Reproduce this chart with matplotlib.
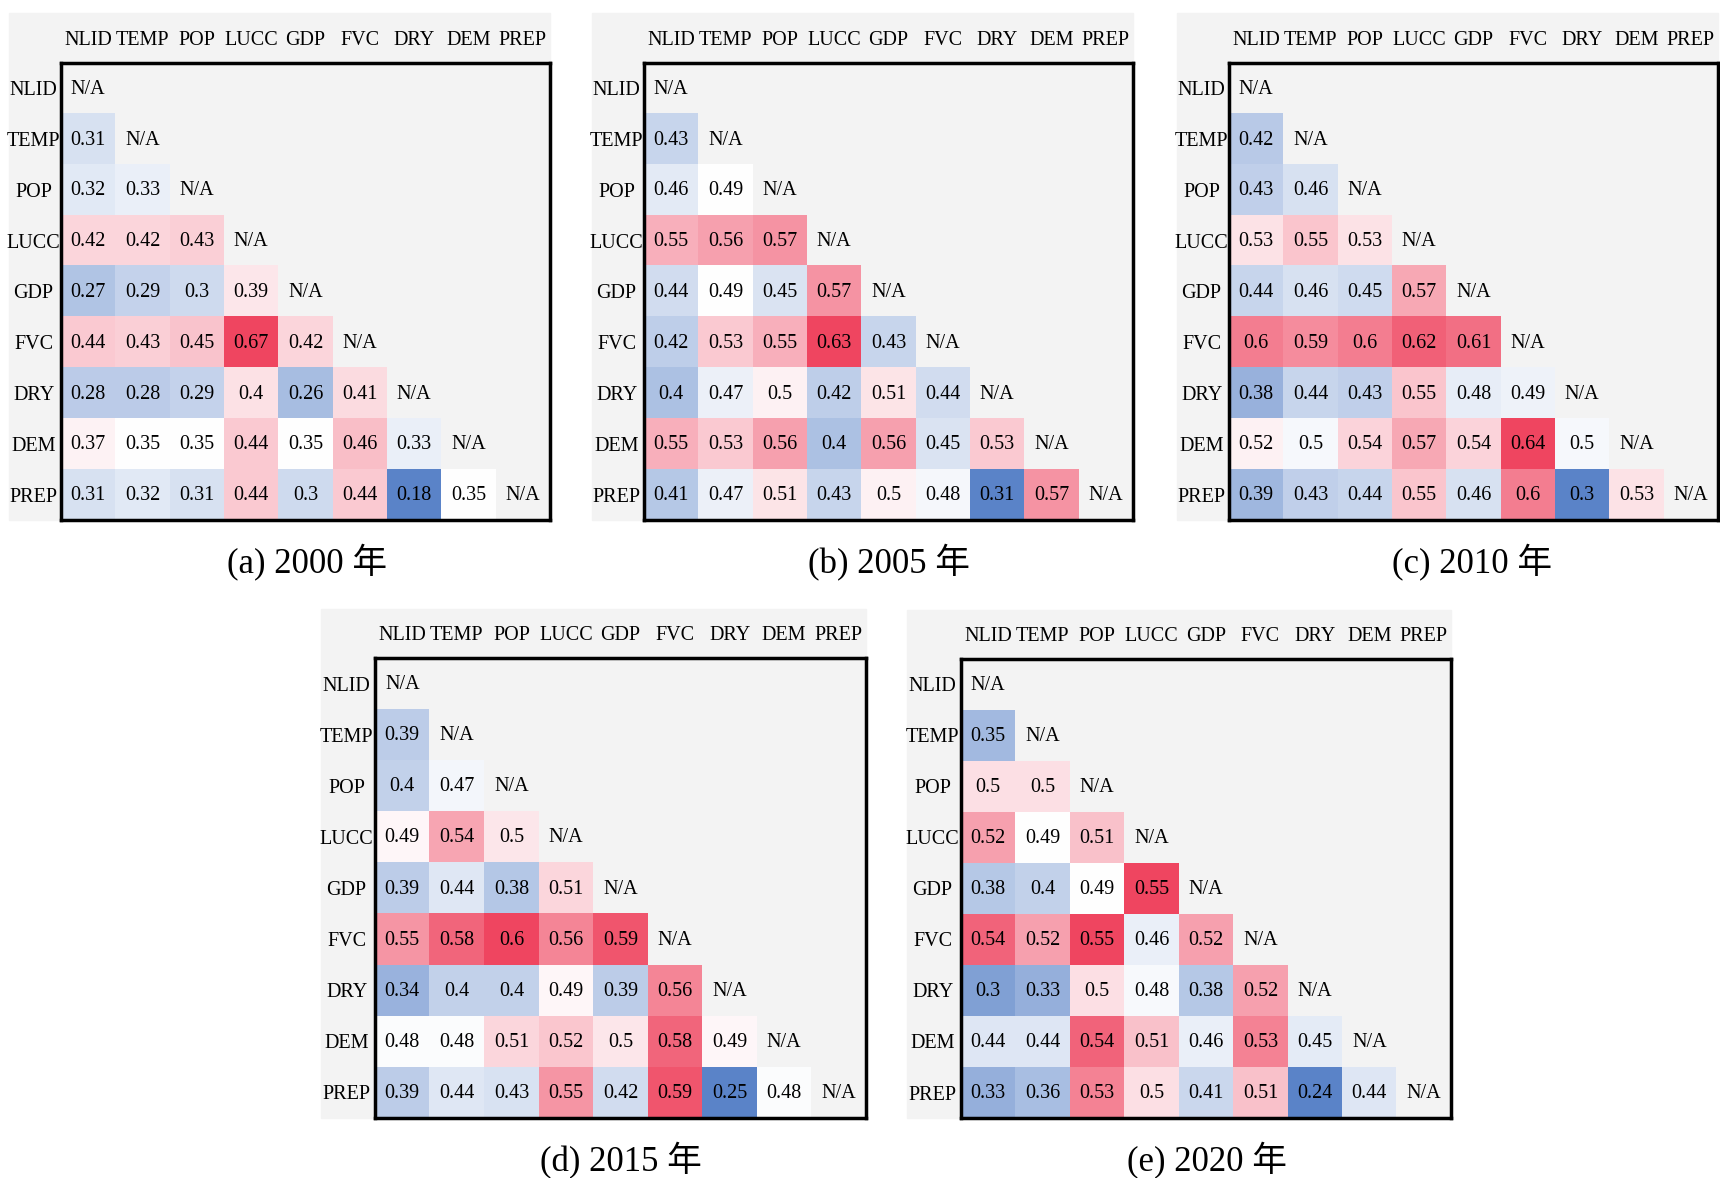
import numpy as np
import matplotlib
matplotlib.use("Agg")
import matplotlib.pyplot as plt
from matplotlib.colors import LinearSegmentedColormap, TwoSlopeNorm
from matplotlib.patches import Rectangle

factors = ["NLID", "TEMP", "POP", "LUCC", "GDP", "FVC", "DRY", "DEM", "PREP"]

# lower triangle rows (row i has i values, columns NLID..)
vals_2000 = [
    [],
    [0.31],
    [0.32, 0.33],
    [0.42, 0.42, 0.43],
    [0.27, 0.29, 0.3, 0.39],
    [0.44, 0.43, 0.45, 0.67, 0.42],
    [0.28, 0.28, 0.29, 0.4, 0.26, 0.41],
    [0.37, 0.35, 0.35, 0.44, 0.35, 0.46, 0.33],
    [0.31, 0.32, 0.31, 0.44, 0.3, 0.44, 0.18, 0.35],
]
vals_2005 = [
    [],
    [0.43],
    [0.46, 0.49],
    [0.55, 0.56, 0.57],
    [0.44, 0.49, 0.45, 0.57],
    [0.42, 0.53, 0.55, 0.63, 0.43],
    [0.4, 0.47, 0.5, 0.42, 0.51, 0.44],
    [0.55, 0.53, 0.56, 0.4, 0.56, 0.45, 0.53],
    [0.41, 0.47, 0.51, 0.43, 0.5, 0.48, 0.31, 0.57],
]
vals_2010 = [
    [],
    [0.42],
    [0.43, 0.46],
    [0.53, 0.55, 0.53],
    [0.44, 0.46, 0.45, 0.57],
    [0.6, 0.59, 0.6, 0.62, 0.61],
    [0.38, 0.44, 0.43, 0.55, 0.48, 0.49],
    [0.52, 0.5, 0.54, 0.57, 0.54, 0.64, 0.5],
    [0.39, 0.43, 0.44, 0.55, 0.46, 0.6, 0.3, 0.53],
]
vals_2015 = [
    [],
    [0.39],
    [0.4, 0.47],
    [0.49, 0.54, 0.5],
    [0.39, 0.44, 0.38, 0.51],
    [0.55, 0.58, 0.6, 0.56, 0.59],
    [0.34, 0.4, 0.4, 0.49, 0.39, 0.56],
    [0.48, 0.48, 0.51, 0.52, 0.5, 0.58, 0.49],
    [0.39, 0.44, 0.43, 0.55, 0.42, 0.59, 0.25, 0.48],
]
vals_2020 = [
    [],
    [0.35],
    [0.5, 0.5],
    [0.52, 0.49, 0.51],
    [0.38, 0.4, 0.49, 0.55],
    [0.54, 0.52, 0.55, 0.46, 0.52],
    [0.3, 0.33, 0.5, 0.48, 0.38, 0.52],
    [0.44, 0.44, 0.54, 0.51, 0.46, 0.53, 0.45],
    [0.33, 0.36, 0.53, 0.5, 0.41, 0.51, 0.24, 0.44],
]

captions = ["(a) 2000 年", "(b) 2005 年", "(c) 2010 年", "(d) 2015 年", "(e) 2020 年"]
all_vals = [vals_2000, vals_2005, vals_2010, vals_2015, vals_2020]

W, H = 1720, 1178
# box: left, top, right, bottom (pixels); grey: left, top; caption: x, y
layout = [
    dict(box=(61, 63, 550, 520), grey=(9, 13), cap=(307, 563)),
    dict(box=(644, 63, 1133, 520), grey=(592, 13), cap=(889, 563)),
    dict(box=(1229, 63, 1718, 520), grey=(1177, 13), cap=(1472, 563)),
    dict(box=(375, 658, 866, 1118), grey=(321, 609), cap=(621, 1161)),
    dict(box=(961, 659, 1451, 1118), grey=(907, 610), cap=(1207, 1161)),
]

cmap = LinearSegmentedColormap.from_list("bwr_soft", ["#5a83c8", "#ffffff", "#ef4560"])
cmap.set_bad((0, 0, 0, 0))
grey = "#f3f3f3"
serif = "Liberation Serif"

fig = plt.figure(figsize=(W / 100, H / 100), dpi=100)
fig.patch.set_facecolor("white")

n = len(factors)
for vals, cap, lay in zip(all_vals, captions, layout):
    mat = np.full((n, n), np.nan)
    for i, row in enumerate(vals):
        for j, v in enumerate(row):
            mat[i, j] = v
    data = np.ma.masked_invalid(mat)
    flat = data.compressed()
    norm = TwoSlopeNorm(vmin=flat.min(), vcenter=np.median(flat), vmax=flat.max())

    l, t, r, b = lay["box"]
    gl, gt = lay["grey"]
    fig.patches.append(Rectangle((gl / W, 1 - b / H), (r - gl) / W, (b - gt) / H,
                                 transform=fig.transFigure, color=grey, zorder=-5))

    ax = fig.add_axes([l / W, 1 - b / H, (r - l) / W, (b - t) / H])
    ax.set_facecolor(grey)
    ax.imshow(data, cmap=cmap, norm=norm, aspect="auto", interpolation="nearest")
    for i in range(n):
        for j in range(i + 1):
            txt = "N/A" if i == j else f"{mat[i, j]:g}"
            ax.text(j, i + 0.02, txt, ha="center", va="center", fontsize=14.5,
                    family=serif, color="black")
    ax.xaxis.tick_top()
    ax.set_xticks(range(n))
    ax.set_xticklabels(factors, family=serif, fontsize=14.5)
    ax.set_yticks(range(n))
    ax.set_yticklabels(factors, family=serif, fontsize=14.5, ha="center")
    ax.tick_params(length=0)
    ax.tick_params(axis="x", pad=9)
    # centre the row labels in the grey margin
    ax.tick_params(axis="y", pad=(l - gl) / 2 * 0.72 + 1)
    for sp in ax.spines.values():
        sp.set_linewidth(2.5)
        sp.set_color("black")

    fig.text(lay["cap"][0] / W, 1 - lay["cap"][1] / H, cap, ha="center", va="center",
             fontsize=25, family=[serif, "Noto Sans CJK SC"])

fig.savefig("out.png", dpi=100)
